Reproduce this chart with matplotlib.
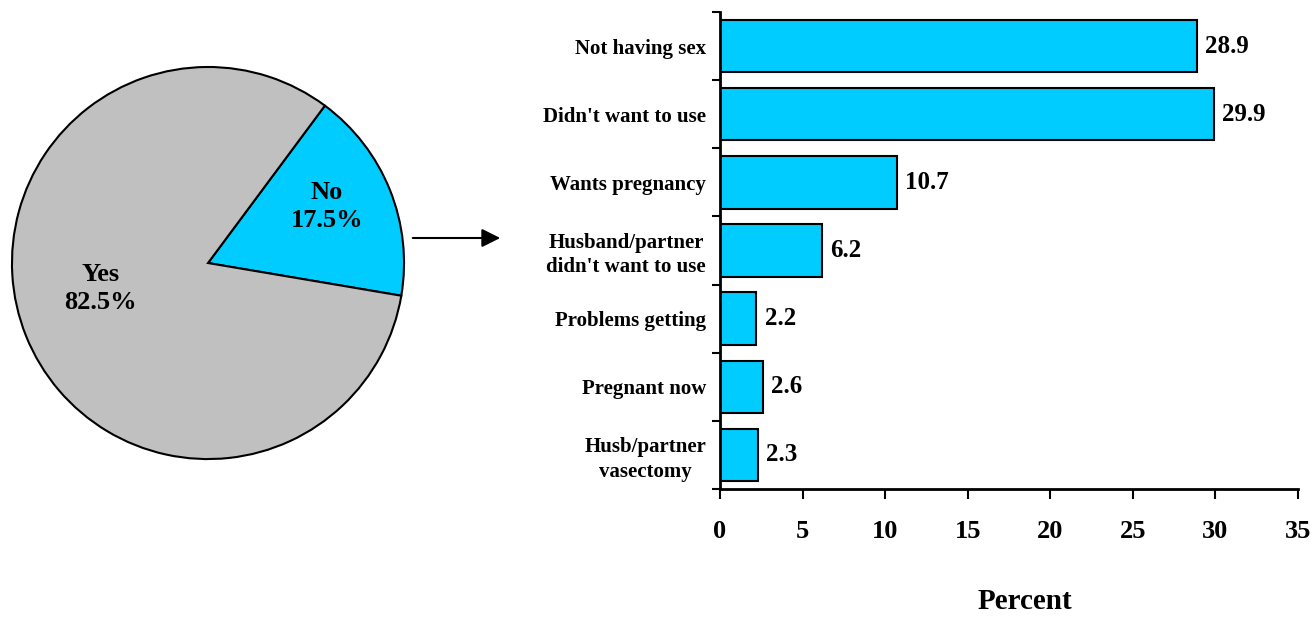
import numpy as np
import matplotlib.pyplot as plt
from matplotlib.patches import FancyArrowPatch

plt.rcParams['font.family'] = ['Liberation Serif', 'DejaVu Serif']
plt.rcParams['font.weight'] = 'bold'

pie_labels = ["No", "Yes"]
pie_values = [17.5, 82.5]

reasons = ["Not having sex", "Didn't want to use", "Wants pregnancy",
           "Husband/partner\ndidn't want to use", "Problems getting",
           "Pregnant now", "Husb/partner\nvasectomy"]
percents = [28.9, 29.9, 10.7, 6.2, 2.2, 2.6, 2.3]

cyan = "#00CCFF"
grey = "#C0C0C0"

fig = plt.figure(figsize=(13.14, 6.17), dpi=100)

# pie on the left
ax_pie = fig.add_axes([0.0076, 0.2528, 0.3014, 0.6418])
wedges, _ = ax_pie.pie(pie_values, colors=[cyan, grey], startangle=-9.6,
                       wedgeprops=dict(edgecolor="black", linewidth=1.5))
ax_pie.set_xlim(-1.01, 1.01)
ax_pie.set_ylim(-1.01, 1.01)
ax_pie.set_aspect("equal")
ax_pie.text(0.606, 0.288, "%s\n%.1f%%" % (pie_labels[0], pie_values[0]),
            ha="center", va="center", fontsize=19, fontweight="bold", linespacing=1.3)
ax_pie.text(-0.55, -0.131, "%s\n%.1f%%" % (pie_labels[1], pie_values[1]),
            ha="center", va="center", fontsize=19, fontweight="bold", linespacing=1.3)

# arrow from pie to bars
arrow = FancyArrowPatch((410 / 1314, 1 - 238 / 617), (503 / 1314, 1 - 238 / 617),
                        transform=fig.transFigure, arrowstyle="-|>",
                        mutation_scale=28, color="black", linewidth=1.5)
fig.patches.append(arrow)

# bar chart on the right
ax = fig.add_axes([0.5479, 0.2075, 0.4399, 0.7731])
y = np.arange(len(reasons))
ax.barh(y, percents, height=0.77, color=cyan, edgecolor="black", linewidth=1.5)
for yi, v in zip(y, percents):
    ax.text(v + 0.5, yi, "%.1f" % v, va="center", ha="left",
            fontsize=18, fontweight="bold")

ax.set_ylim(len(reasons) - 0.5, -0.5)
ax.set_xlim(0, 35)
ax.set_yticks(y)
ax.set_yticklabels(reasons, fontsize=15, fontweight="bold",
                   multialignment="center", linespacing=1.3)
ax.set_yticks(np.arange(-0.5, len(reasons)), minor=True)
ax.tick_params(axis="y", which="major", length=0, pad=10)
ax.tick_params(axis="y", which="minor", length=6, width=1.5, direction="out")
ax.set_xticks(np.arange(0, 36, 5))
ax.tick_params(axis="x", length=7, width=1.5, direction="out", pad=15, labelsize=19)
for lbl in ax.get_xticklabels():
    lbl.set_fontweight("bold")
ax.spines["top"].set_visible(False)
ax.spines["right"].set_visible(False)
ax.spines["left"].set_linewidth(2)
ax.spines["bottom"].set_linewidth(2)
ax.set_xlabel("Percent", fontsize=21, fontweight="bold")
ax.xaxis.set_label_coords(0.528, -0.207)

fig.savefig("out.png", dpi=100)
